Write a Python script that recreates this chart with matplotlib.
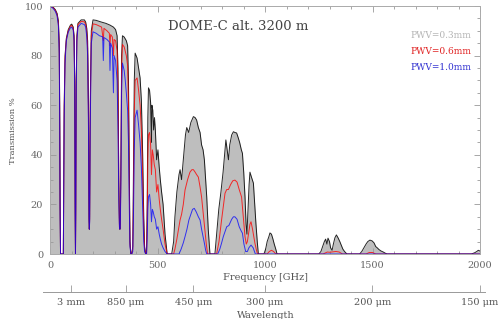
import matplotlib
matplotlib.use("Agg")
import matplotlib.pyplot as plt
from matplotlib.ticker import MultipleLocator

# transmission spectra: (frequency GHz, transmission %)
pwv03 = [(0,100),(15,99.5),(25,98.5),(33,97),(39,94),(43,85),(45,60),(47,20),(49,0),(62,0),(64,30),(66,60),
         (70,80),(76,87),(85,90.5),(95,92.3),(101,92.7),(108,91.5),(112,88),(115,70),(117,20),(118.5,0),(120,20),
         (122,70),(125,88),(130,93),(145,94.4),(160,94.4),(166,93.5),(171,91),(175,86),(179,60),(181.5,15),(183,10),
         (184.5,15),(187,60),(192,90),(200,94.4),(215,94.2),(240,93.5),(260,93),(279,92.3),(295,91.5),(305,90.5),
         (312,88),(316,75),(320,30),(323,12),(325,10),(327,12),(330,40),(333,80),(337,88),(345,87.5),(355,86),
         (361,84),(365,70),(369,30),(372,5),(376,0),(380,0),(385,3),(388,30),(392,70),(396,81),(405,79),(412,75),
         (419,71),(425,62),(431,40),(436,15),(440,3),(445,0),(449,0),(452,20),(455,55),(458,67),(463,66),(468,61),
         (472,45),(474,60),(478,58),(482,50),(486,55),(490,50),(496,38),(502,42),(508,35),(513,30),(519,25),
         (526,20),(535,8),(545,0),(566,0),(575,5),(581,15),(590,25),(600,32),(605,34),(612,30),(620,38),(630,48),
         (636,51),(645,49),(655,53),(667,55.4),(675,55),(682,54),(690,51),(698,49),(705,44),(712,42),(718,38),
         (724,30),(729,23),(736,10),(744,0),(767,0),(775,8),(785,18),(795,25),(805,33),(812,40),(818,46),(824,42),
         (830,38),(836,44),(845,48),(853,49.3),(860,49),(868,48.8),(875,47),(882,45),(890,42),(895,40.6),(901,33),
         (907,23),(912,12),(916,8),(921,18),(926,28),(930,33),(937,31),(946,28.6),(952,20),(958,12),(964,5),
         (969,0),(995,0),(1003,2),(1010,5),(1018,7),(1023,8.5),(1030,8),(1037,6),(1043,4),(1050,2),(1056,0),
         (1250,0),(1260,1),(1268,3),(1276,5),(1282,6),(1288,4),(1293,6.4),(1300,5),(1305,2.5),(1312,1.5),(1318,4),
         (1325,6.5),(1332,7.7),(1340,6.5),(1348,5),(1355,3.5),(1362,2),(1370,1),(1381,0),(1440,0),(1450,1),
         (1460,2.5),(1470,4),(1478,5),(1488,5.6),(1498,5.3),(1507,4.5),(1515,3),(1522,2.5),(1530,1.8),(1540,1.2),
         (1550,0.8),(1560,0.3),(1568,0),(1960,0),(1975,0.5),(1985,1),(1992,1.5),(2000,1.2)]

pwv06 = [(0,100),(15,99.3),(25,98.2),(33,96.5),(39,93),(43,83),(45,58),(47,18),(49,0),(62,0),(64,28),(66,58),
         (70,79),(76,86.5),(85,90),(95,91.8),(101,92.2),(108,91),(112,87),(115,68),(117,18),(118.5,0),(120,18),
         (122,68),(125,87),(130,92.5),(145,93.8),(160,93.6),(166,92.6),(171,89.5),(175,83),(179,55),(181.5,14),
         (183,10),(184.5,14),(187,55),(192,88),(200,92.8),(215,92.5),(240,91.5),(248,86),(251,91),(265,90),
         (276,89),(279,84),(282,88.5),(290,87.5),(295,80),(298,86.5),(305,86),(312,82),(316,68),(320,27),(323,11),
         (325,10),(327,11),(330,35),(333,74),(337,84.5),(345,83.5),(355,80),(361,76),(365,60),(369,25),(372,4),
         (376,0),(380,0),(385,2),(388,22),(392,58),(396,70),(405,71),(412,66),(419,60),(425,50),(431,30),(436,10),
         (440,2),(445,0),(449,0),(452,14),(455,38),(458,48),(463,49),(468,44),(472,32),(476,42),(480,40),(485,36),
         (490,34),(496,25),(502,28),(508,22),(513,18),(519,14),(526,10),(535,4),(545,0),(575,0),(581,2),(590,6),
         (598,10),(605,13.7),(612,16),(620,20),(628,25.8),(640,30),(651,33),(660,34),(667,34),(675,33),(682,32),
         (690,31),(698,27),(705,23),(712,17),(721,9.7),(727,4),(733,0),(775,0),(786,5),(798,13.7),(806,19),
         (814,24.5),(822,26),(830,26),(840,28),(850,29.5),(860,29.8),(870,29),(880,26),(891,23),(900,14),(907,7),
         (913,4),(918,5),(925,9),(930,12),(935,13),(942,10),(948,7),(953,4.4),(959,2),(965,0),(1010,0),(1020,1),
         (1030,1.5),(1040,1),(1050,0),(1270,0),(1290,0.8),(1300,0.7),(1330,1),(1345,0.8),(1360,0),(1470,0),
         (1485,0.6),(1500,0.6),(1515,0),(2000,0)]

pwv10 = [(0,100),(15,99),(25,97.8),(33,96),(39,92),(43,81),(45,55),(47,16),(49,0),(62,0),(64,26),(66,55),
         (70,77),(76,86),(85,89.5),(95,91.2),(101,91.5),(108,90.3),(112,86),(115,66),(117,16),(118.5,0),(120,16),
         (122,66),(125,86),(130,91.5),(145,93),(160,92.5),(166,91.5),(171,87.5),(175,80),(179,50),(181.5,13),
         (183,10),(184.5,13),(187,50),(192,85),(200,89.6),(215,89),(230,88),(245,87.6),(248,78),(251,87.3),
         (265,86.5),(276,85.5),(279,74),(282,85),(290,83),(295,65),(298,80),(305,78),(312,70),(316,52),(320,22),
         (323,11),(325,10),(327,11),(330,30),(333,65),(337,77),(345,74),(350,70),(355,65),(361,58),(365,45),
         (369,18),(372,3),(376,0),(380,0),(385,1),(388,14),(392,42),(396,55),(405,58),(412,52),(419,45),(425,35),
         (431,18),(436,5),(440,1),(445,0),(449,0),(452,6),(455,18),(458,23),(463,24),(468,20),(472,13),(476,18),
         (480,17),(485,15),(490,14),(496,10),(502,11),(508,8),(513,6),(519,4),(526,2.5),(535,1),(545,0),(600,0),
         (610,2),(620,4.5),(628,7),(637,10),(646,13.7),(655,16),(663,18),(671,18.4),(680,17),(690,15),(698,13.7),
         (705,10),(712,7),(718,4.4),(724,1.5),(729,0),(780,0),(790,2),(798,4.4),(806,7),(814,9),(822,11),
         (832,11.5),(845,14),(853,15),(860,15),(870,14),(880,11),(888,9.5),(895,8.4),(902,4),(910,1),(918,1),
         (925,2.5),(935,3.6),(945,2.5),(955,0),(2000,0)]

wl_labels = ["3 mm", "850 μm", "450 μm", "300 μm", "200 μm", "150 μm"]
wl_um = [3000, 850, 450, 300, 200, 150]

serif = "DejaVu Serif"
txt = "#555555"
fig = plt.figure(figsize=(4.98, 3.19), dpi=100)
ax = fig.add_axes([50/498, 65/319, 430/498, 248/319])

f3, t3 = zip(*pwv03)
f6, t6 = zip(*pwv06)
f10, t10 = zip(*pwv10)
ax.fill_between(f3, t3, 0, color="#bebebe", lw=0)
ax.plot(f3, t3, color="black", lw=0.7, alpha=0.85)
ax.plot(f6, t6, color="red", lw=0.7, alpha=0.8)
ax.plot(f10, t10, color="blue", lw=0.7, alpha=0.75)

ax.set_xlim(0, 2000)
ax.set_ylim(0, 100)
ax.xaxis.set_major_locator(MultipleLocator(500))
ax.xaxis.set_minor_locator(MultipleLocator(100))
ax.yaxis.set_major_locator(MultipleLocator(20))
ax.yaxis.set_minor_locator(MultipleLocator(5))
ax.tick_params(which="both", direction="in", top=True, right=True, colors="#999999",
               labelcolor="#666666", labelsize=7, width=0.6)
ax.tick_params(which="major", length=4, pad=5)
ax.tick_params(which="minor", length=2)
for lab in ax.get_xticklabels() + ax.get_yticklabels():
    lab.set_family(serif)
for s in ax.spines.values():
    s.set_color("#aaaaaa")
    s.set_linewidth(0.7)

ax.set_xlabel("Frequency [GHz]", family=serif, fontsize=7, color=txt, labelpad=2)
fig.text(13/498, 1 - 131/319, "Transmission %", family=serif, fontsize=6, color=txt,
         rotation=90, ha="center", va="center")

ax.text(0.274, 0.918, "DOME-C alt. 3200 m", transform=ax.transAxes, family=serif,
        fontsize=9.5, color="#444444", va="center")
ax.text(0.98, 0.881, "PWV=0.3mm", transform=ax.transAxes, family=serif, fontsize=6.5,
        color="#b4b4b4", ha="right", va="center")
ax.text(0.98, 0.818, "PWV=0.6mm", transform=ax.transAxes, family=serif, fontsize=6.5,
        color="#e02020", ha="right", va="center")
ax.text(0.98, 0.752, "PWV=1.0mm", transform=ax.transAxes, family=serif, fontsize=6.5,
        color="#3030d0", ha="right", va="center")

# wavelength scale below
ax2 = fig.add_axes([43/498, 27/319, 442/498, 0.0001])
ax2.set_xlim(-32.6, 2023.3)
for k in ["left", "right", "top"]:
    ax2.spines[k].set_visible(False)
ax2.spines["bottom"].set_color("#999999")
ax2.spines["bottom"].set_linewidth(0.7)
ax2.set_yticks([])
ax2.set_xticks([299792.458 / w for w in wl_um], wl_labels)
ax2.tick_params(axis="x", direction="in", length=5, width=0.6, colors="#999999",
                labelcolor=txt, labelsize=7, pad=4)
for lab in ax2.get_xticklabels():
    lab.set_family(serif)
fig.text(266/498, 1 - 315/319, "Wavelength", family=serif, fontsize=7, color=txt,
         ha="center", va="center")

fig.savefig("out.png", dpi=100)
